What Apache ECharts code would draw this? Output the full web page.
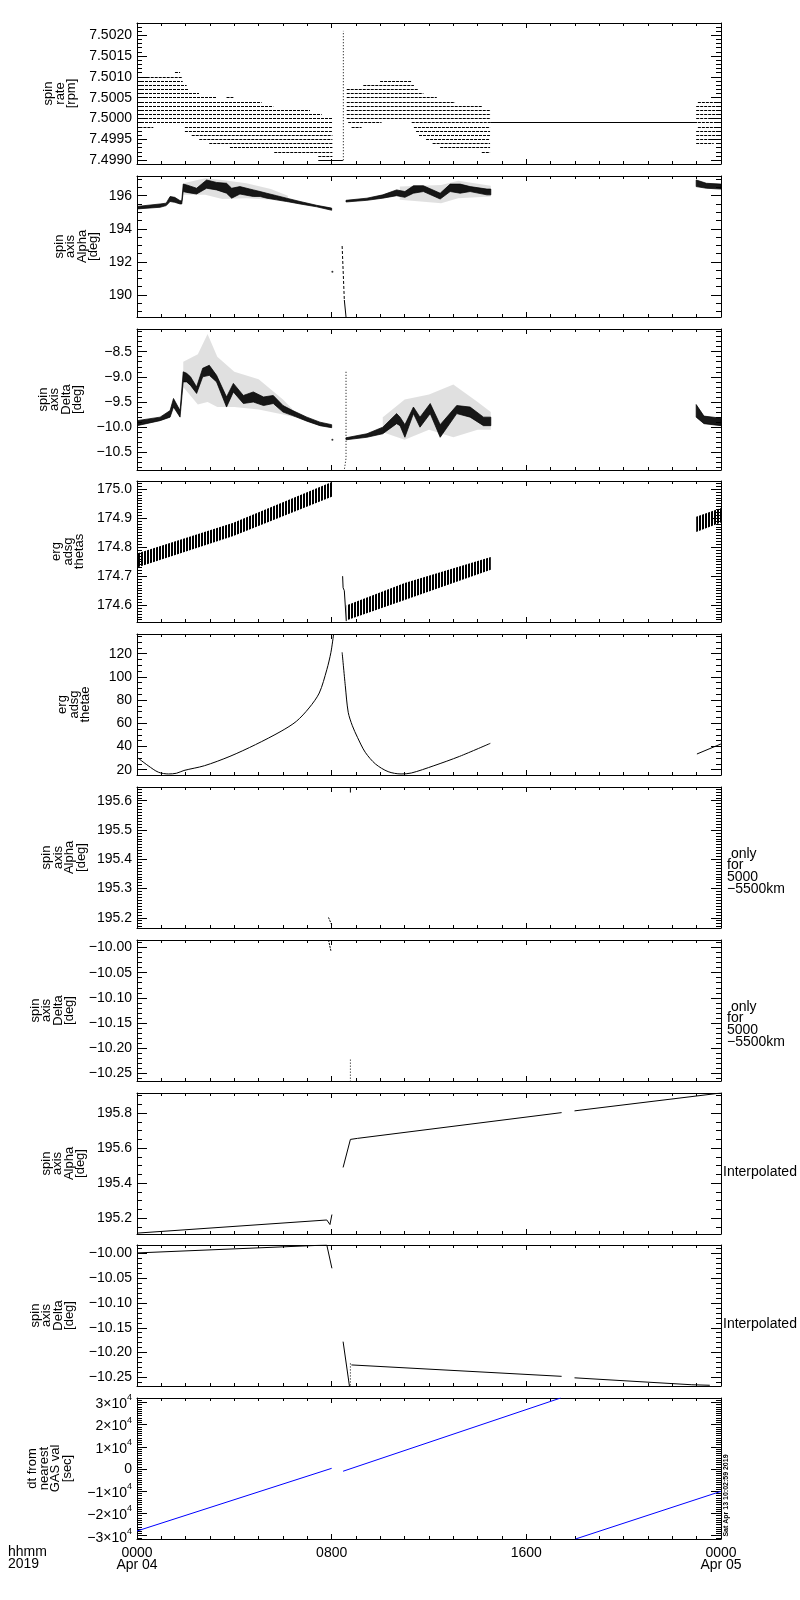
<!DOCTYPE html>
<html>
<head>
<meta charset="utf-8">
<title>ERG spin axis</title>
<script src="https://cdn.jsdelivr.net/npm/echarts@6.0.0/dist/echarts.min.js"></script>
<style>
  html, body { margin: 0; padding: 0; background: #fff; }
  #chart { width: 800px; height: 1600px; }
</style>
</head>
<body>
<div id="chart"></div>
<script>
var FONT = 'Liberation Sans';

////////// DATA (time in hours from 0000 Apr 04)

// spin rate: quantised rows [level, tStart, tEnd]
var rateRowsA = [
  [7.5011, 1.56, 1.77], [7.5010, 0.40, 1.88], [7.5009, 0.00, 1.88], [7.5008, 0.00, 2.04],
  [7.5007, 0.00, 2.11], [7.5006, 0.00, 2.55], [7.5005, 0.00, 3.25], [7.5005, 3.68, 3.96],
  [7.5004, 0.00, 5.12], [7.5003, 0.00, 5.60], [7.5002, 0.00, 7.11], [7.5001, 0.00, 7.59],
  [7.5000, 0.00, 8.03], [7.4999, 0.00, 8.03], [7.4998, 0.10, 0.67], [7.4998, 1.97, 8.03],
  [7.4997, 1.97, 8.03], [7.4996, 2.25, 8.03], [7.4995, 2.56, 8.03], [7.4994, 2.97, 8.03],
  [7.4993, 3.82, 8.03], [7.4992, 5.64, 8.03], [7.4991, 7.45, 8.03]
];
var rateRowsB = [
  [7.5009, 9.99, 11.29], [7.5008, 9.30, 11.38], [7.5007, 8.62, 11.56], [7.5006, 8.62, 11.77],
  [7.5005, 8.62, 12.32], [7.5004, 8.62, 13.07], [7.5003, 8.62, 14.17], [7.5002, 8.62, 14.54],
  [7.5001, 8.62, 14.54], [7.5000, 8.62, 14.54], [7.4999, 8.68, 10.05], [7.4999, 11.29, 14.54],
  [7.4998, 8.82, 9.23], [7.4998, 11.38, 14.51], [7.4997, 11.47, 14.51], [7.4996, 11.59, 14.51],
  [7.4995, 11.88, 14.51], [7.4994, 12.15, 14.51], [7.4993, 12.46, 14.51], [7.4992, 14.17, 14.51]
];
var rateRowsC = [
  [7.5004, 23.05, 24.0], [7.5003, 22.98, 24.0], [7.5002, 22.98, 24.0], [7.5001, 22.98, 24.0],
  [7.5000, 22.98, 24.0], [7.4999, 23.05, 24.0], [7.4998, 23.05, 24.0], [7.4997, 22.98, 24.0],
  [7.4996, 22.98, 24.0], [7.4995, 22.98, 24.0], [7.4994, 22.98, 23.7]
];
var rateSolid = [[7.4990, 7.45, 8.46], [7.4999, 14.54, 23.02]];
var rateColumn = [[8.48, 7.4990], [8.48, 7.5021]];

// spin axis alpha (band core + sparse envelope)
var alphaT_A  = [0.0, 0.95, 1.20, 1.36, 1.55, 1.77, 1.84, 1.90, 2.04, 2.45, 2.86, 3.27, 3.68, 3.89, 4.23, 4.78, 5.06, 5.33, 5.74, 6.15, 6.70, 7.38, 8.0];
var alphaLo_A = [195.20, 195.30, 195.40, 195.65, 195.60, 195.50, 195.50, 196.25, 196.20, 196.10, 196.45, 196.35, 196.15, 195.85, 196.10, 195.95, 195.95, 195.85, 195.75, 195.65, 195.50, 195.33, 195.12];
var alphaHi_A = [195.35, 195.50, 195.55, 195.95, 195.90, 195.70, 195.70, 196.70, 196.65, 196.45, 196.95, 196.80, 196.75, 196.45, 196.55, 196.35, 196.25, 196.15, 196.00, 195.85, 195.65, 195.42, 195.25];
var alphaT_B  = [8.59, 9.45, 10.1, 10.67, 11.01, 11.36, 11.77, 12.46, 12.87, 13.28, 13.69, 14.38, 14.54];
var alphaLo_B = [195.62, 195.72, 195.85, 196.00, 195.90, 196.15, 196.25, 195.80, 196.25, 196.15, 196.25, 196.05, 196.05];
var alphaHi_B = [195.72, 195.85, 196.05, 196.35, 196.25, 196.60, 196.60, 196.15, 196.70, 196.70, 196.55, 196.40, 196.40];
var alphaT_C  = [22.98, 23.4, 24.0];
var alphaLo_C = [196.55, 196.45, 196.40];
var alphaHi_C = [196.95, 196.75, 196.70];
var alphaNoiseT_A  = [1.9, 2.8, 3.5, 4.5, 5.5, 6.2];
var alphaNoiseLo_A = [196.05, 196.05, 195.80, 195.85, 195.75, 195.60];
var alphaNoiseHi_A = [196.75, 197.05, 196.95, 196.75, 196.40, 196.00];
var alphaNoiseT_B  = [10.8, 12.5, 13.2, 14.54];
var alphaNoiseLo_B = [195.75, 195.55, 195.85, 195.95];
var alphaNoiseHi_B = [196.55, 196.65, 196.90, 196.60];
var alphaDot = [[8.03, 191.4]];
var alphaDrop = [[8.43, 192.96], [8.52, 189.7]];
var alphaDrop2 = [[8.52, 189.7], [8.59, 188.67]];

// spin axis delta
var deltaT_A  = [0.0, 0.95, 1.36, 1.50, 1.77, 1.90, 2.04, 2.20, 2.45, 2.70, 2.97, 3.27, 3.68, 3.96, 4.37, 4.78, 5.20, 5.60, 6.00, 6.40, 6.98, 7.52, 8.0];
var deltaLo_A = [-9.97, -9.87, -9.80, -9.60, -9.80, -9.10, -9.10, -9.17, -9.33, -9.00, -8.97, -9.10, -9.60, -9.30, -9.53, -9.50, -9.57, -9.53, -9.70, -9.77, -9.88, -9.97, -10.01];
var deltaHi_A = [-9.87, -9.80, -9.67, -9.43, -9.67, -8.90, -8.93, -9.00, -9.20, -8.83, -8.77, -8.97, -9.40, -9.13, -9.37, -9.30, -9.40, -9.37, -9.57, -9.67, -9.80, -9.90, -9.95];
var deltaT_B  = [8.59, 9.45, 10.1, 10.67, 10.81, 11.01, 11.36, 11.63, 12.05, 12.46, 13.14, 13.69, 14.24, 14.54];
var deltaLo_B = [-10.25, -10.20, -10.13, -9.93, -9.97, -10.20, -9.73, -10.00, -9.73, -10.20, -9.73, -9.80, -9.97, -9.97];
var deltaHi_B = [-10.21, -10.13, -10.00, -9.73, -9.80, -9.95, -9.60, -9.80, -9.53, -9.95, -9.57, -9.60, -9.80, -9.80];
var deltaT_C  = [22.98, 23.3, 24.0];
var deltaLo_C = [-9.80, -9.93, -9.97];
var deltaHi_C = [-9.55, -9.78, -9.82];
var deltaNoiseT_A  = [1.9, 2.5, 2.9, 3.3, 4.0, 5.0, 6.0, 6.5];
var deltaNoiseLo_A = [-9.20, -9.55, -9.50, -9.60, -9.60, -9.65, -9.75, -9.80];
var deltaNoiseHi_A = [-8.70, -8.55, -8.15, -8.60, -8.90, -9.05, -9.45, -9.70];
var deltaNoiseT_B  = [10.1, 11.0, 12.0, 13.0, 14.0, 14.54];
var deltaNoiseLo_B = [-10.10, -10.25, -10.05, -10.20, -10.05, -10.05];
var deltaNoiseHi_B = [-9.80, -9.45, -9.35, -9.15, -9.50, -9.70];
var deltaDot = [[8.03, -10.25]];
var deltaColumn = [[8.59, -8.9], [8.59, -10.62], [8.52, -10.846]];

// erg adsg thetas
var thetasT_A  = [0.0, 3.96, 8.03];
var thetasLo_A = [174.730, 174.838, 174.975];
var thetasHi_A = [174.778, 174.884, 175.025];
var thetasT_B  = [8.62, 11.0, 14.54];
var thetasLo_B = [174.548, 174.618, 174.722];
var thetasHi_B = [174.600, 174.676, 174.766];
var thetasT_C  = [22.98, 24.0];
var thetasLo_C = [174.852, 174.885];
var thetasHi_C = [174.905, 174.935];
var thetasDrop = [[8.45, 174.70], [8.47, 174.66], [8.52, 174.65], [8.60, 174.545]];

// erg adsg thetae
var thetaeA = [[0, 30.7], [0.46, 23.4], [0.88, 17.8], [1.30, 16.3], [1.62, 16.9], [1.93, 19.3], [2.77, 23.4],
  [3.82, 31.5], [4.87, 41.6], [5.92, 53.1], [6.55, 61.7], [7.07, 73.2], [7.49, 86.1], [7.80, 106.2], [7.97, 121.2], [8.08, 137]];
var thetaeB = [[8.43, 121.2], [8.56, 92.4], [8.68, 69.5], [8.85, 57.9], [9.06, 47.9], [9.38, 35.0], [9.80, 24.9],
  [10.32, 18.3], [10.85, 16.3], [11.27, 17.1], [12.2, 23.4], [13.26, 31.5], [14.52, 42.7]];
var thetaeC = [[23.01, 33.5], [24.0, 42.2]];

// 5000-5500 km only
var alpha5kA = [[7.87, 195.201], [8.0, 195.176]];
var alpha5kB = [[8.77, 195.647], [8.77, 195.628]];
var delta5kA = [[7.87, -9.985], [7.97, -10.007]];
var delta5kB = [[8.77, -10.223], [8.77, -10.2655]];

// interpolated
var alphaIntA = [[0, 195.115], [7.80, 195.19], [7.87, 195.19], [7.93, 195.164], [8.01, 195.221]];
var alphaIntB = [[8.47, 195.49], [8.77, 195.65], [9.06, 195.656], [17.45, 195.803]];
var alphaIntC = [[17.98, 195.813], [24.0, 195.915]];
var deltaIntA = [[0, -9.999], [7.80, -9.983], [7.87, -9.986], [8.01, -10.030]];
var deltaIntDrop = [[8.47, -10.178], [8.73, -10.2675]];
var deltaIntCol = [[8.77, -10.222], [8.77, -10.2675]];
var deltaIntB = [[8.81, -10.225], [17.45, -10.248]];
var deltaIntC = [[17.98, -10.251], [22.8, -10.265], [23.54, -10.266]];

// dt from nearest GAS val [sec]
var gasA = [[0, -27900], [8.0, 300]];
var gasB = [[8.47, -1000], [17.41, 31950]];
var gasC = [[18.02, -31500], [24.0, -10050]];

////////// PANELS
var tops = [23, 176, 329, 481, 634, 787, 940, 1093, 1245, 1398];
var panels = [
  {name: 'spin\nrate\n[rpm]',                cx: 60,   min: 7.49891,  max: 7.50229, split: 7, minor: 5,  dec: 4},
  {name: 'spin\naxis\nAlpha\n[deg]',         cx: 76.5, min: 188.67,   max: 197.19,  split: 4, minor: 4,  dec: 0},
  {name: 'spin\naxis\nDelta\n[deg]',         cx: 60.5, min: -10.85,   max: -8.05,   split: 6, minor: 5,  dec: 1},
  {name: 'erg\nadsg\nthetas',                cx: 68,   min: 174.542,  max: 175.028, split: 5, minor: 10, dec: 1},
  {name: 'erg\nadsg\nthetae',                cx: 74,   min: 15.4,     max: 137,     split: 6, minor: 4,  dec: 0},
  {name: 'spin\naxis\nAlpha\n[deg]',         cx: 64,   min: 195.165,  max: 195.647, split: 5, minor: 10, dec: 1},
  {name: 'spin\naxis\nDelta\n[deg]',         cx: 52.5, min: -10.2655, max: -9.985,  split: 6, minor: 5,  dec: 2},
  {name: 'spin\naxis\nAlpha\n[deg]',         cx: 63.5, min: 195.110,  max: 195.915, split: 4, minor: 4,  dec: 1},
  {name: 'spin\naxis\nDelta\n[deg]',         cx: 52.5, min: -10.2675, max: -9.983,  split: 6, minor: 5,  dec: 2},
  {name: 'dt from\nnearest\nGAS val\n[sec]', cx: 50,   min: -31500,   max: 31950,   split: 6, minor: 10, dec: -1}
];
var PANEL_H = 141;

function fmtNum(v, dec) {
  if (dec < 0) {
    if (Math.abs(v) < 1e-6) return '0';
    var m = Math.round(v / 1e4);
    return '{m|' + (m < 0 ? '\u2212' : '') + Math.abs(m) + '\u00d710}{e|4}';
  }
  var s = Math.abs(v).toFixed(dec);
  return (v < 0 && Number(s) !== 0 ? '\u2212' : '') + s;
}

var grids = [], xAxes = [], yAxes = [], series = [], graphics = [];
var last = panels.length - 1;

panels.forEach(function (p, k) {
  grids.push({left: 137, width: 584, top: tops[k], height: PANEL_H});
  [false, true].forEach(function (isTop) {
    xAxes.push({
      type: 'value', gridIndex: k, min: 0, max: 24, interval: 8,
      position: isTop ? 'top' : 'bottom',
      axisLine: {show: true, onZero: false, lineStyle: {color: '#000', width: 1}},
      axisTick: {show: true, inside: true, length: 5, lineStyle: {color: '#000'}},
      minorTick: {show: true, splitNumber: 8, length: 3, lineStyle: {color: '#000'}},
      splitLine: {show: false},
      axisLabel: {
        show: !isTop && k === last, margin: 8, color: '#000',
        fontFamily: FONT, fontSize: 14, lineHeight: 12,
        formatter: function (v) {
          if (v === 0) return '0000\nApr 04';
          if (v === 24) return '0000\nApr 05';
          return (v < 10 ? '0' : '') + v + '00';
        }
      }
    });
  });
  [false, true].forEach(function (isRight) {
    yAxes.push({
      type: 'value', gridIndex: k, min: p.min, max: p.max, splitNumber: p.split, scale: true,
      position: isRight ? 'right' : 'left',
      axisLine: {show: true, onZero: false, lineStyle: {color: '#000', width: 1}},
      axisTick: {show: true, inside: true, length: 10, lineStyle: {color: '#000'}},
      minorTick: {show: true, splitNumber: p.minor, length: 5, lineStyle: {color: '#000'}},
      splitLine: {show: false},
      axisLabel: {
        show: !isRight, showMinLabel: false, showMaxLabel: false, margin: 5,
        color: '#000', fontFamily: FONT, fontSize: 14,
        formatter: function (v) { return fmtNum(v, p.dec); },
        rich: {
          m: {fontFamily: FONT, fontSize: 14, color: '#000', lineHeight: 18, verticalAlign: 'bottom'},
          e: {fontFamily: FONT, fontSize: 9, color: '#000', verticalAlign: 'top'}
        }
      }
    });
  });
  // rotated y title, centred on the panel
  graphics.push({
    type: 'text', x: p.cx, y: tops[k] + PANEL_H / 2, rotation: Math.PI / 2, silent: true,
    style: {text: p.name, fill: '#000', font: '13px "' + FONT + '"', lineHeight: 11.5,
      align: 'center', verticalAlign: 'middle'}
  });
});

////////// SERIES HELPERS
function line(k, pts, opt) {
  opt = opt || {};
  series.push({
    type: 'line', xAxisIndex: 2 * k, yAxisIndex: 2 * k, data: pts,
    symbol: 'none', silent: true, animation: false, smooth: opt.smooth || false,
    lineStyle: {color: opt.color || '#000', width: opt.width || 1, type: opt.type || 'solid'}
  });
}

function rows(k, list, type) {
  series.push({
    type: 'lines', coordinateSystem: 'cartesian2d', xAxisIndex: 2 * k, yAxisIndex: 2 * k,
    silent: true, animation: false,
    lineStyle: {color: '#000', width: 1, type: type, opacity: 1},
    data: list.map(function (r) { return {coords: [[r[1], r[0]], [r[2], r[0]]]}; })
  });
}

function dots(k, pts) {
  series.push({
    type: 'scatter', xAxisIndex: 2 * k, yAxisIndex: 2 * k, data: pts,
    symbolSize: 2, silent: true, animation: false, itemStyle: {color: '#000'}
  });
}

// filled band between lo and hi, one polygon placed through the axis scales
function band(k, t, lo, hi, fill, stroke) {
  var pts = t.map(function (x, i) { return [x, lo[i], hi[i]]; });
  series.push({
    type: 'custom', xAxisIndex: 2 * k, yAxisIndex: 2 * k, data: pts,
    encode: {x: 0, y: [1, 2]}, silent: true, animation: false, clip: true,
    renderItem: function (params, api) {
      if (params.dataIndex !== 0) return null;
      var poly = [], i;
      for (i = 0; i < pts.length; i++) poly.push(api.coord([pts[i][0], pts[i][2]]));
      for (i = pts.length - 1; i >= 0; i--) poly.push(api.coord([pts[i][0], pts[i][1]]));
      return {type: 'polygon', shape: {points: poly},
        style: {fill: fill, stroke: stroke || null, lineWidth: 0.8}};
    }
  });
}

// vertical stroke texture of the thetas band
function stripePattern() {
  var c = document.createElement('canvas');
  c.width = 3; c.height = 4;
  var g = c.getContext('2d');
  g.fillStyle = '#000';
  g.fillRect(0, 0, 2, 4);
  return {image: c, repeat: 'repeat'};
}

var NOISE = 'rgba(0,0,0,0.12)';
var CORE = 'rgba(0,0,0,0.9)';
var STRIPES = stripePattern();

// panel 1
rows(0, rateRowsA, [3, 1]);
rows(0, rateRowsB, [3, 1]);
rows(0, rateRowsC, [3, 1]);
rows(0, rateSolid, 'solid');
line(0, rateColumn, {type: [1, 2]});

// panel 2
band(1, alphaNoiseT_A, alphaNoiseLo_A, alphaNoiseHi_A, NOISE);
band(1, alphaNoiseT_B, alphaNoiseLo_B, alphaNoiseHi_B, NOISE);
band(1, alphaT_A, alphaLo_A, alphaHi_A, CORE, CORE);
band(1, alphaT_B, alphaLo_B, alphaHi_B, CORE, CORE);
band(1, alphaT_C, alphaLo_C, alphaHi_C, CORE, CORE);
dots(1, alphaDot);
line(1, alphaDrop, {type: [3, 2]});
line(1, alphaDrop2);

// panel 3
band(2, deltaNoiseT_A, deltaNoiseLo_A, deltaNoiseHi_A, NOISE);
band(2, deltaNoiseT_B, deltaNoiseLo_B, deltaNoiseHi_B, NOISE);
band(2, deltaT_A, deltaLo_A, deltaHi_A, CORE, CORE);
band(2, deltaT_B, deltaLo_B, deltaHi_B, CORE, CORE);
band(2, deltaT_C, deltaLo_C, deltaHi_C, CORE, CORE);
dots(2, deltaDot);
line(2, deltaColumn, {type: [1, 2]});

// panel 4
band(3, thetasT_A, thetasLo_A, thetasHi_A, STRIPES);
band(3, thetasT_B, thetasLo_B, thetasHi_B, STRIPES);
band(3, thetasT_C, thetasLo_C, thetasHi_C, STRIPES);
line(3, thetasDrop);

// panel 5
line(4, thetaeA, {smooth: 0.3});
line(4, thetaeB, {smooth: 0.3});
line(4, thetaeC);

// panels 6, 7
line(5, alpha5kA, {type: [2, 1]});
line(5, alpha5kB);
line(6, delta5kA, {type: [2, 1]});
line(6, delta5kB, {type: [1, 2]});

// panels 8, 9
line(7, alphaIntA);
line(7, alphaIntB);
line(7, alphaIntC);
line(8, deltaIntA);
line(8, deltaIntDrop);
line(8, deltaIntCol, {type: [1, 2]});
line(8, deltaIntB);
line(8, deltaIntC);

// panel 10
line(9, gasA, {color: '#0000ff'});
line(9, gasB, {color: '#0000ff'});
line(9, gasC, {color: '#0000ff'});

////////// TEXT
function txt(x, y, s, size, extra) {
  var o = {
    type: 'text', x: x, y: y, silent: true,
    style: {text: s, fill: '#000', font: size + 'px "' + FONT + '"', lineHeight: 11.7, align: 'left', verticalAlign: 'top'}
  };
  if (extra) Object.keys(extra).forEach(function (key) { o.style[key] = extra[key]; });
  return o;
}
var onlyText = ' only\nfor\n5000\n\u22125500km';
graphics.push(
  txt(8, 1546, 'hhmm\n2019', 14, {lineHeight: 12}),
  txt(727, 848, onlyText, 14),
  txt(727, 1001, onlyText, 14),
  txt(723, 1172, 'Interpolated', 14, {verticalAlign: 'middle'}),
  txt(723, 1324, 'Interpolated', 14, {verticalAlign: 'middle'}),
  {
    type: 'text', x: 726.5, y: 1495.5, rotation: Math.PI / 2, silent: true,
    style: {text: 'Sat Apr 13 10:02:59 2019', fill: '#000', font: 'bold 7px "' + FONT + '"', align: 'center', verticalAlign: 'middle'}
  }
);

var chart = echarts.init(document.getElementById('chart'), null, {renderer: 'canvas'});
chart.setOption({
  animation: false,
  backgroundColor: '#fff',
  textStyle: {fontFamily: FONT},
  grid: grids,
  xAxis: xAxes,
  yAxis: yAxes,
  series: series,
  graphic: graphics
});
</script>
</body>
</html>
